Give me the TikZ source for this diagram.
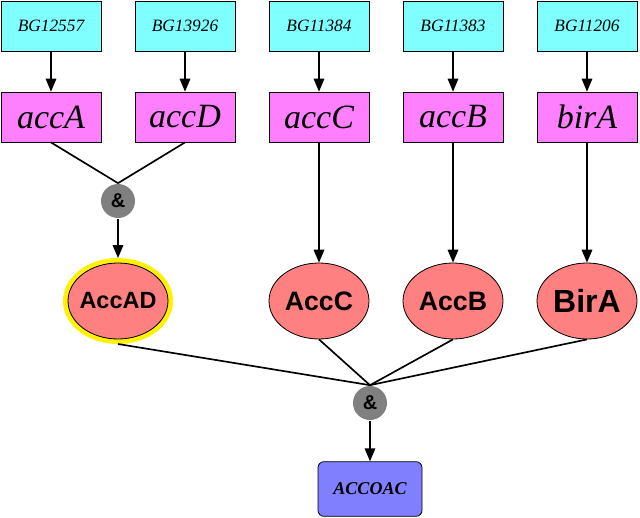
\documentclass[tikz,border=0pt]{standalone}
\usepackage{fontspec}
\setmainfont{Liberation Serif}
\setsansfont{Liberation Sans}
\usetikzlibrary{arrows, shapes.geometric}
\definecolor{genecyan}{HTML}{80FFFF}
\definecolor{locuspink}{HTML}{FF80FF}
\definecolor{protsalmon}{HTML}{FF8080}
\definecolor{complexblue}{HTML}{8080FF}
\definecolor{andgray}{HTML}{808080}

\begin{document}
\begin{tikzpicture}[x=0.75pt,y=-0.75pt,->,>=triangle 45,shorten >=0pt,auto,node distance=100.5pt, line width=1.25pt,
  gene node/.style={rectangle,draw,line width=0.6pt,fill=genecyan,font=\itshape\fontsize{13}{13}\selectfont, minimum width=75pt, minimum height=37.5pt, inner sep=0pt},
  locus node/.style={rectangle,draw,line width=0.6pt,fill=locuspink,font=\itshape\fontsize{25.5}{25.5}\selectfont, minimum width=75pt, minimum height=37.5pt, inner sep=0pt},
  product node/.style={ellipse,draw,line width=0.6pt,fill=protsalmon,font=\sffamily\bfseries\fontsize{#1}{#1}\selectfont, minimum width=75pt, minimum height=57pt, inner sep=-4pt},
  product node/.default=20,
  halo/.style={preaction={draw=yellow, line width=7.5pt}, outer sep=3.75pt},
  and node/.style={circle,fill=andgray,font=\sffamily\bfseries\fontsize{15}{15}\selectfont, minimum size=25.5pt, inner sep=0pt},
  complex node/.style={rectangle,rounded corners=4.5pt,draw,line width=0.6pt,fill=complexblue,font=\itshape\bfseries\fontsize{13.5}{13.5}\selectfont, minimum width=78pt, minimum height=41pt, inner sep=0pt}]

  \useasboundingbox (0,0) rectangle (640,518);

  \node[gene node] (BGa) at (51,26) {BG12557};
  \node[gene node] (BGd) [right of=BGa] {BG13926};
  \node[gene node] (BGc) [right of=BGd] {BG11384};
  \node[gene node] (BGb) [right of=BGc] {BG11383};
  \node[gene node] (BGbir) [right of=BGb] {BG11206};

  \node[locus node] (accA) at (51,117) {accA};
  \node[locus node] (accD) [right of=accA] {accD};
  \node[locus node] (accC) [right of=accD] {accC};
  \node[locus node] (accB) [right of=accC] {accB};
  \node[locus node] (birA) [right of=accB] {birA};

  \node[and node] (and1) at (118,201) {\&};

  \node[product node=17.6, halo] (AccAD) at (118,301) {AccAD};
  \node[product node] (AccC) at (accC |- AccAD) {AccC};
  \node[product node] (AccB) at (accB |- AccAD) {AccB};
  \node[product node=24] (BirA) at (birA |- AccAD) {BirA};

  \node[and node] (and2) at (370,403) {\&};
  \node[complex node] (ACCOAC) [below of=and2, node distance=64.5pt] {ACCOAC};

  \path[->]
       (BGa) edge (accA)
       (BGd) edge (accD)
       (BGc) edge (accC)
       (BGb) edge (accB)
       (BGbir) edge (birA)
       (and1) edge (AccAD)
       (accC) edge (AccC)
       (accB) edge (AccB)
       (birA) edge (BirA)
       (and2) edge (ACCOAC);

  \path[-]
       (accA.south) edge (and1.north)
       (accD.south) edge (and1.north)
       (AccAD.south) edge (and2.north)
       (AccC.south) edge (and2.north)
       (AccB.south) edge (and2.north)
       (BirA.south) edge (and2.north);
\end{tikzpicture}
\end{document}
